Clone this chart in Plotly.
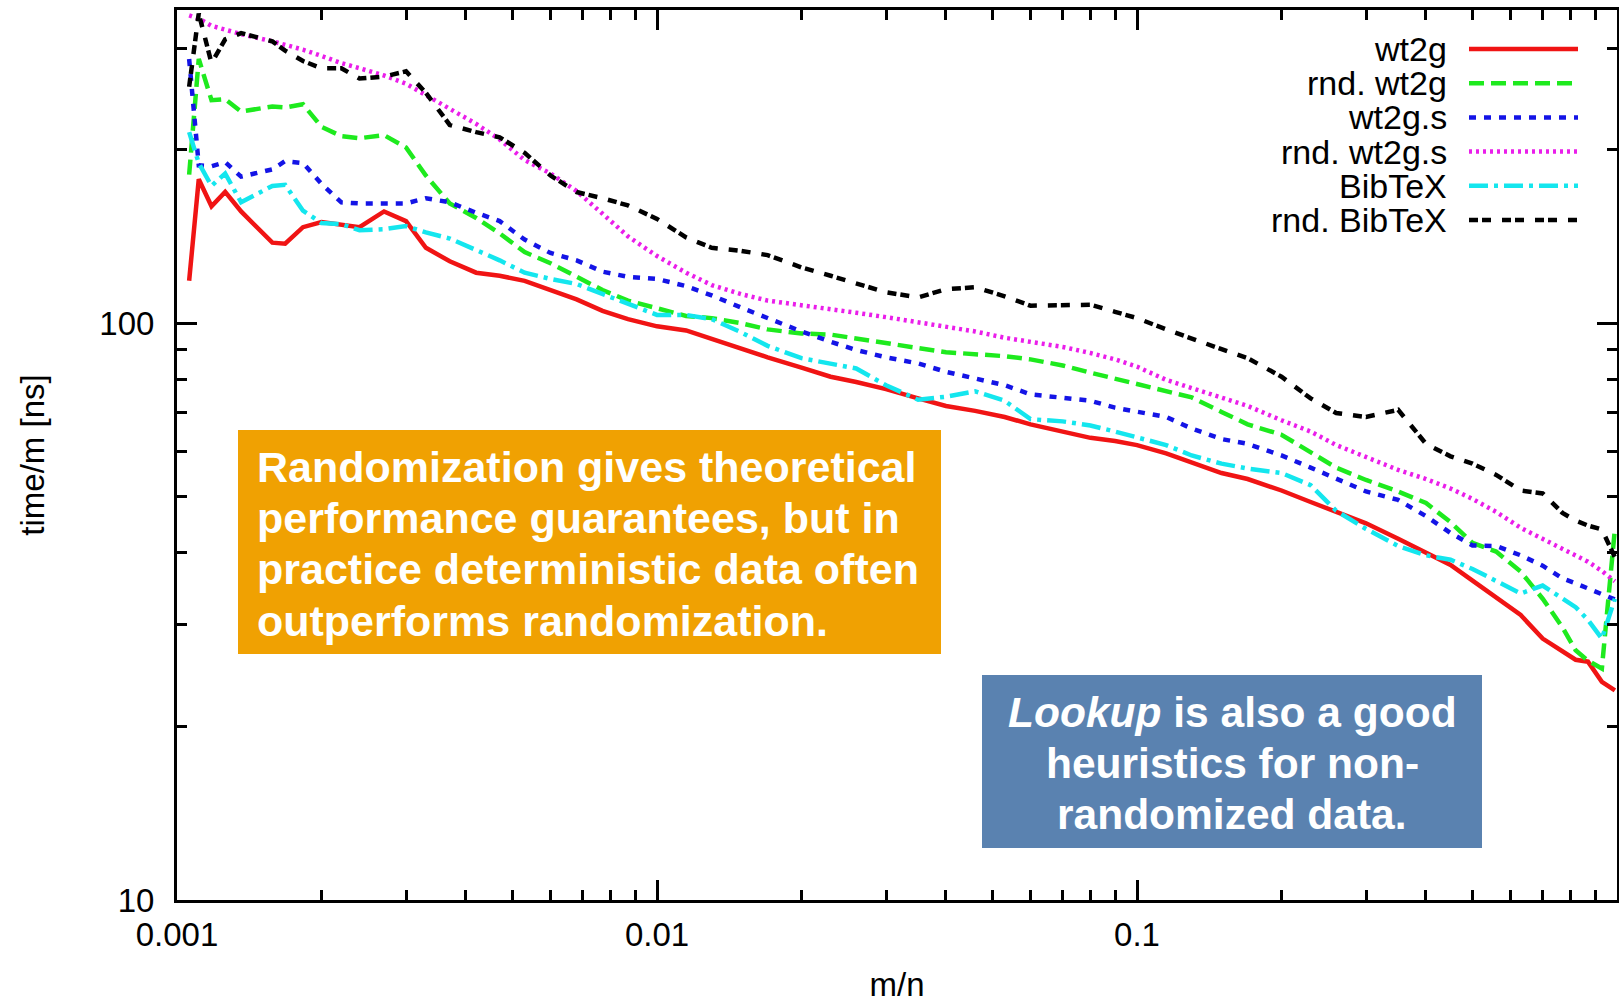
import plotly.graph_objects as go

# ---------------- data ----------------
m_over_n = [0.00106, 0.00111, 0.00118, 0.00126, 0.00136, 0.00158, 0.00168, 0.00183, 0.002, 0.0022,
            0.0024, 0.0027, 0.003, 0.0033, 0.0037, 0.0042, 0.0047, 0.0053, 0.006, 0.0068,
            0.0077, 0.0087, 0.01, 0.0115, 0.013, 0.015, 0.017, 0.02, 0.023, 0.026,
            0.03, 0.035, 0.04, 0.046, 0.053, 0.06, 0.07, 0.08, 0.09, 0.1,
            0.115, 0.13, 0.15, 0.17, 0.2, 0.23, 0.26, 0.3, 0.35, 0.4,
            0.45, 0.5, 0.56, 0.63, 0.7, 0.77, 0.82, 0.87, 0.93, 0.99]

wt2g = [118.5, 177.7, 159.6, 169.0, 156.3, 138.0, 137.4, 146.8, 149.8, 148.0,
        146.8, 156.3, 150.4, 135.2, 128.1, 122.4, 120.9, 118.5, 114.1, 110.0,
        105.1, 101.7, 98.8, 97.2, 94.0, 90.2, 87.3, 83.8, 80.8, 79.1,
        76.9, 74.1, 71.9, 70.5, 68.8, 66.8, 64.9, 63.3, 62.5, 61.5,
        59.5, 57.3, 55.0, 53.7, 51.3, 49.0, 47.1, 45.0, 42.3, 40.1,
        38.1, 35.8, 33.5, 31.2, 28.4, 27.0, 26.1, 25.9, 23.9, 23.1]

rnd_wt2g = [181.1, 287.4, 243.7, 244.7, 232.9, 237.7, 236.7, 239.8, 219.1, 211.1,
            209.4, 212.0, 201.8, 180.4, 161.4, 152.3, 143.2, 132.9, 127.1, 120.4,
            114.2, 109.5, 106.0, 103.0, 102.1, 100.0, 97.6, 96.0, 95.6, 94.0,
            92.5, 90.6, 89.1, 88.4, 87.7, 86.6, 84.5, 82.1, 80.1, 78.5,
            76.2, 74.4, 70.2, 66.8, 64.1, 59.8, 56.2, 53.5, 51.1, 48.8,
            45.2, 41.6, 40.2, 37.1, 33.3, 29.7, 27.1, 26.0, 25.2, 44.0]

wt2g_s = [287.3, 187.9, 187.2, 190.3, 179.6, 184.9, 191.1, 189.6, 174.5, 162.1,
          161.4, 161.4, 161.4, 164.8, 162.1, 155.5, 150.4, 139.7, 132.4, 128.6,
          122.9, 120.4, 119.4, 116.0, 111.8, 106.4, 102.1, 96.8, 92.9, 89.9,
          87.3, 85.2, 82.4, 80.4, 78.1, 75.3, 74.1, 73.4, 71.4, 70.2,
          68.8, 65.7, 63.0, 61.8, 59.0, 56.2, 53.9, 51.1, 49.4, 46.3,
          43.3, 41.2, 41.1, 39.6, 38.0, 36.1, 35.4, 34.7, 33.8, 33.2]

rnd_wt2g_s = [342.0, 337.6, 328.0, 322.6, 317.3, 308.3, 304.5, 298.2, 290.9, 282.6,
              276.9, 269.0, 260.3, 248.8, 234.8, 221.7, 208.4, 191.9, 181.9, 169.5,
              154.9, 141.5, 130.8, 122.4, 116.5, 112.3, 109.5, 107.3, 105.6, 104.3,
              102.5, 100.5, 98.8, 96.8, 94.4, 92.9, 91.0, 88.8, 86.6, 84.1,
              79.8, 77.2, 74.4, 71.9, 67.9, 64.9, 61.5, 58.5, 55.7, 53.7,
              51.7, 49.6, 47.1, 44.2, 42.3, 40.6, 39.6, 38.6, 37.2, 35.7]

bibtex = [214.5, 189.6, 173.1, 181.9, 162.1, 173.1, 173.9, 156.8, 149.2, 148.6,
          145.0, 145.6, 147.4, 143.8, 140.3, 134.1, 128.6, 122.4, 119.4, 117.0,
          112.3, 108.2, 103.4, 103.4, 101.7, 96.4, 91.4, 87.0, 85.2, 83.5,
          78.1, 73.7, 74.6, 76.2, 73.4, 68.2, 67.6, 66.5, 64.9, 63.3,
          61.5, 59.0, 57.1, 56.0, 55.0, 52.4, 47.3, 44.0, 41.1, 39.6,
          38.9, 37.5, 35.8, 34.0, 35.1, 33.3, 32.2, 30.6, 28.4, 33.3]

rnd_bibtex = [257.1, 344.5, 282.6, 310.8, 318.6, 308.3, 297.0, 285.0, 276.9, 276.9,
              265.7, 267.9, 273.5, 250.9, 220.8, 214.5, 210.2, 197.5, 180.4, 168.9,
              164.8, 160.1, 151.7, 140.9, 135.2, 133.5, 131.3, 125.0, 120.9, 117.5,
              113.2, 110.9, 114.6, 115.5, 111.4, 107.3, 107.3, 107.7, 104.7, 102.1,
              97.6, 94.0, 90.2, 87.0, 80.8, 74.1, 69.9, 68.8, 70.8, 61.8,
              58.8, 57.1, 54.6, 51.3, 50.7, 46.9, 45.5, 44.6, 43.9, 39.3]

series_names = ["wt2g", "rnd. wt2g", "wt2g.s", "rnd. wt2g.s", "BibTeX", "rnd. BibTeX"]
series_values = [wt2g, rnd_wt2g, wt2g_s, rnd_wt2g_s, bibtex, rnd_bibtex]

x_tick_vals = [0.001, 0.01, 0.1, 1]
x_tick_text = ["0.001", "0.01", "0.1", "1"]
y_tick_vals = [10, 100]
y_tick_text = ["10", "100"]

box1_lines = ["Randomization gives theoretical",
              "performance guarantees, but in",
              "practice deterministic data often",
              "outperforms randomization."]
box2_lines = ["<i>Lookup</i> is also a good",
              "heuristics for non-",
              "randomized data."]

# ---------------- styles ----------------
colors = ["#f01414", "#1eea1e", "#1414e6", "#ea1eea", "#14e6ee", "#000000"]
dashes = ["solid", "15px,7px", "7px,8px", "3px,4px", "19px,6px,4px,6px", "9px,4px,9px,11px"]
LINE_W = 4.5
FONT = "Liberation Sans, Arial, Helvetica, sans-serif"

W, H = 1619, 1003
L, R, T, B = 177, 2, 10, 103
PW, PH = W - L - R, H - T - B


def px(xp):
    return (xp - L) / PW


def py(yp):
    return (H - B - yp) / PH


fig = go.Figure()
for name, vals, col, dash in zip(series_names, series_values, colors, dashes):
    fig.add_trace(go.Scatter(x=m_over_n, y=vals, mode="lines", name=name,
                             line=dict(color=col, width=LINE_W, dash=dash),
                             showlegend=False))

shapes = []
annotations = []

# custom legend (text on the left, line sample on the right)
for i, (name, col, dash) in enumerate(zip(series_names, colors, dashes)):
    yc = 49 + 34.2 * i
    annotations.append(dict(x=px(1449), y=py(yc), xref="paper", yref="paper",
                            xanchor="right", yanchor="middle", showarrow=False,
                            text=name, font=dict(family=FONT, size=34, color="black")))
    shapes.append(dict(type="line", xref="paper", yref="paper",
                       x0=px(1469), x1=px(1578), y0=py(yc), y1=py(yc),
                       line=dict(color=col, width=LINE_W, dash=dash)))

# orange box
shapes.append(dict(type="rect", xref="paper", yref="paper",
                   x0=px(238), x1=px(941), y0=py(654), y1=py(430),
                   fillcolor="#f0a102", line=dict(width=0), layer="above"))
for i, t in enumerate(box1_lines):
    annotations.append(dict(x=px(255), y=py(467 + 51.2 * i), xref="paper", yref="paper",
                            xanchor="left", yanchor="middle", showarrow=False,
                            text="<b>" + t + "</b>",
                            font=dict(family=FONT, size=43, color="white")))

# blue box
shapes.append(dict(type="rect", xref="paper", yref="paper",
                   x0=px(982), x1=px(1482), y0=py(848), y1=py(675),
                   fillcolor="#5a82b0", line=dict(width=0), layer="above"))
for i, t in enumerate(box2_lines):
    annotations.append(dict(x=px(1232), y=py(712 + 51 * i), xref="paper", yref="paper",
                            xanchor="center", yanchor="middle", showarrow=False,
                            text="<b>" + t + "</b>",
                            font=dict(family=FONT, size=42.5, color="white")))

x_minor = [k * 10 ** e for e in (-3, -2, -1) for k in range(2, 10)]
y_minor = [k * 10 ** e for e in (1, 2) for k in range(2, 10) if k * 10 ** e < 350]

axis_common = dict(showline=True, linecolor="black", linewidth=3, mirror="ticks",
                   ticks="inside", ticklen=20, tickwidth=3, tickcolor="black",
                   showgrid=False, zeroline=False, automargin=False,
                   tickfont=dict(family=FONT, size=33, color="black"))

fig.update_layout(
    width=W, height=H,
    margin=dict(l=L, r=R, t=T, b=B),
    paper_bgcolor="white", plot_bgcolor="white",
    shapes=shapes, annotations=annotations,
    xaxis=dict(type="log", range=[-3, 0], tickmode="array",
               tickvals=x_tick_vals, ticktext=x_tick_text,
               minor=dict(tickmode="array", tickvals=x_minor, ticks="inside",
                          ticklen=10, tickwidth=3, tickcolor="black", showgrid=False),
               ticklabelstandoff=3,
               title=dict(text="m/n", font=dict(family=FONT, size=33, color="black"),
                          standoff=28),
               **axis_common),
    yaxis=dict(type="log", range=[1, 2.5433], tickmode="array",
               tickvals=y_tick_vals, ticktext=y_tick_text,
               minor=dict(tickmode="array", tickvals=y_minor, ticks="inside",
                          ticklen=10, tickwidth=3, tickcolor="black", showgrid=False),
               ticklabelstandoff=13,
               title=dict(text="time/m [ns]", font=dict(family=FONT, size=33, color="black"),
                          standoff=45),
               **axis_common),
)

fig.write_html("out.html", config={"displayModeBar": False},
               post_script="document.body.style.margin='0px';")
